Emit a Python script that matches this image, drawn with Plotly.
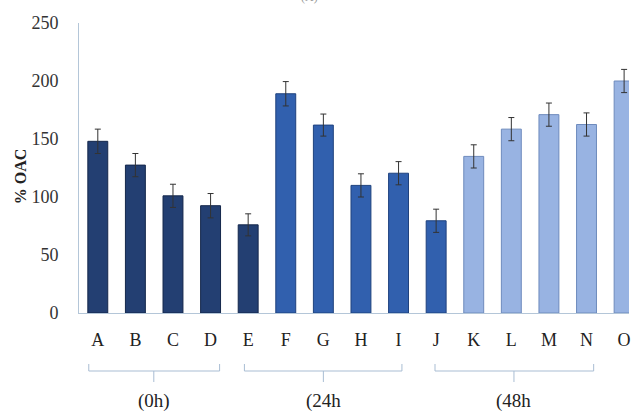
import plotly.graph_objects as go

categories = ["A", "B", "C", "D", "E", "F", "G", "H", "I", "J", "K", "L", "M", "N", "O"]
values = [148, 127.5, 101, 92.5, 76, 189, 162, 110, 120.5, 79.5, 135, 158.5, 171, 162.5, 200]
errors = [10.5, 10, 10, 10.5, 9.5, 10.5, 9.5, 10, 10, 10, 10, 10, 10, 10, 10]
bar_colors = ["#233f72"] * 5 + ["#3160ae"] * 5 + ["#98b3e2"] * 5
edge_colors = ["#14274b"] * 5 + ["#1f427e"] * 5 + ["#6e8bbd"] * 5
groups = [("(0h)", -0.24, 3.24, 1.49), ("(24h", 3.9, 8.09, 6.0), ("(48h", 8.97, 13.19, 11.07)]
y_ticks = [0, 50, 100, 150, 200, 250]

W, H = 631, 414
ml, mr, mt, mb = 79, 0, 23, 101
x_lo, x_hi = -0.5, 14.13
plot_h = H - mt - mb

def px_to_paper_y(py):
    return (H - mb - py) / plot_h

def idx_to_paper_x(i):
    return (i - x_lo) / (x_hi - x_lo)

fig = go.Figure()
fig.add_trace(go.Bar(
    x=list(range(len(categories))),
    y=values,
    marker=dict(color=bar_colors, line=dict(color=edge_colors, width=1)),
    error_y=dict(type="data", array=errors, color="#333333", thickness=1, width=3),
    width=0.53,
    hoverinfo="skip",
))

serif = "Liberation Serif, Times New Roman, serif"
shapes = []
annotations = []
y_line = px_to_paper_y(371)
y_up = px_to_paper_y(364)
y_down = px_to_paper_y(382)
lc = dict(color="#a9bdd3", width=1)
for label, a, b, m in groups:
    xa, xb, xm = idx_to_paper_x(a), idx_to_paper_x(b), idx_to_paper_x(m)
    shapes.append(dict(type="line", xref="paper", yref="paper", x0=xa, x1=xb, y0=y_line, y1=y_line, line=lc))
    shapes.append(dict(type="line", xref="paper", yref="paper", x0=xa, x1=xa, y0=y_line, y1=y_up, line=lc))
    shapes.append(dict(type="line", xref="paper", yref="paper", x0=xb, x1=xb, y0=y_line, y1=y_up, line=lc))
    shapes.append(dict(type="line", xref="paper", yref="paper", x0=xm, x1=xm, y0=y_line, y1=y_down, line=lc))
    annotations.append(dict(text=label, xref="paper", yref="paper", x=xm, y=px_to_paper_y(401),
                            xanchor="center", yanchor="middle", showarrow=False,
                            font=dict(family=serif, size=19, color="#222222")))

annotations.append(dict(text="<b>% OAC</b>", xref="paper", yref="paper",
                        x=(20 - ml) / (W - ml - mr), y=px_to_paper_y(176), textangle=-90,
                        xanchor="center", yanchor="middle", showarrow=False,
                        font=dict(family=serif, size=16, color="#222222")))
annotations.append(dict(text="(A)", xref="paper", yref="paper",
                        x=idx_to_paper_x((310 - ml) / 37.7 - 0.5), y=px_to_paper_y(6),
                        xanchor="center", yanchor="bottom", showarrow=False,
                        font=dict(family=serif, size=12, color="#999999")))

fig.update_layout(
    width=W, height=H,
    margin=dict(l=ml, r=mr, t=mt, b=mb, pad=0),
    paper_bgcolor="white", plot_bgcolor="white",
    showlegend=False,
    bargap=0.47,
    shapes=shapes,
    annotations=annotations,
    xaxis=dict(
        range=[x_lo, x_hi],
        tickmode="array", tickvals=list(range(len(categories))), ticktext=categories,
        showgrid=False, zeroline=False, showline=True, linecolor="#b4c6d8", linewidth=1,
        ticks="", ticklabelstandoff=10, ticklabeloverflow="allow",
        tickfont=dict(family=serif, size=18, color="#222222"),
    ),
    yaxis=dict(
        range=[0, 250], tickvals=y_ticks,
        showgrid=False, zeroline=False, showline=True, linecolor="#b4c6d8", linewidth=1,
        ticks="", ticklabelstandoff=16,
        tickfont=dict(family=serif, size=18, color="#333333"),
    ),
)

fig.write_html("out.html", config={"displayModeBar": False},
               post_script="document.body.style.margin='0';document.body.style.overflow='hidden';")
